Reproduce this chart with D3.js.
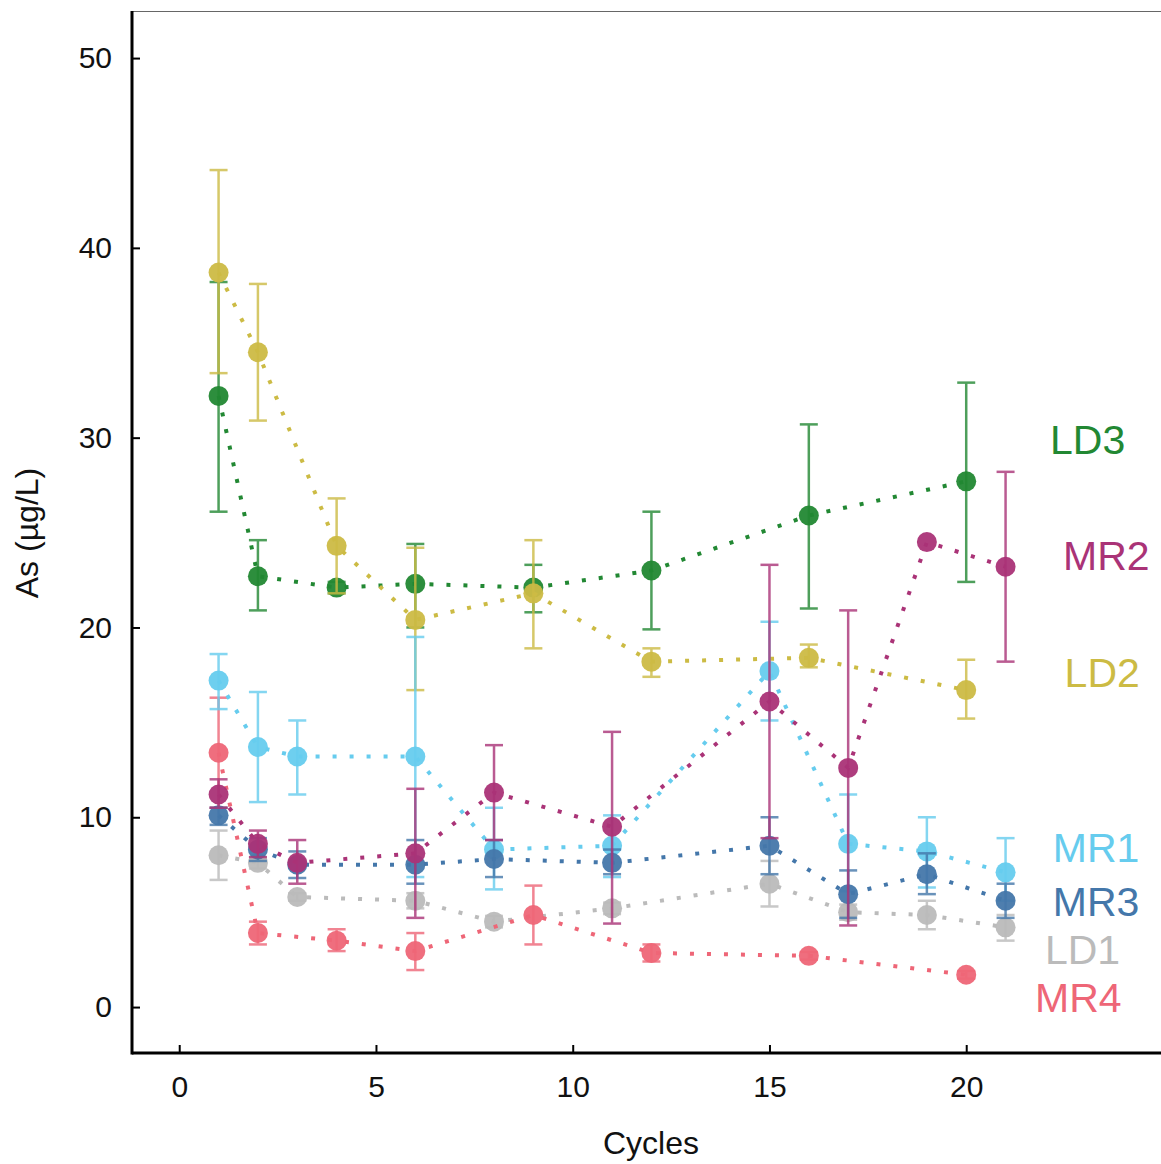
<!DOCTYPE html>
<html>
<head>
<meta charset="utf-8">
<script src="https://cdn.jsdelivr.net/npm/d3@7"></script>
<style>
  body { margin: 0; background: #fff; }
  svg { display: block; font-family: "Liberation Sans", Arial, sans-serif; }
</style>
</head>
<body>
<svg id="chart" width="1161" height="1164"></svg>
<script>
// data: cycle, mean, lower bar, upper bar
const seriesNames = ["LD1", "MR4", "LD3", "LD2", "MR1", "MR3", "MR2"];
const seriesColors = {
    LD1: "#bbbbbb", MR4: "#ee6677", LD3: "#228833", LD2: "#ccbb44",
    MR1: "#66ccee", MR3: "#4477aa", MR2: "#aa3377"
};

const LD1 = [
    [1, 8.0, 6.7, 9.3], [2, 7.6, 7.3, 7.9], [3, 5.8, 5.6, 6.0], [6, 5.6, 5.2, 6.0],
    [8, 4.5, 4.2, 4.8], [11, 5.2, 4.9, 5.5], [15, 6.5, 5.3, 7.7], [17, 5.0, 4.6, 5.4],
    [19, 4.85, 4.1, 5.6], [21, 4.2, 3.5, 4.85]
];
const MR4 = [
    [1, 13.4, 10.5, 16.3], [2, 3.9, 3.3, 4.5], [4, 3.5, 2.95, 4.1], [6, 2.95, 1.95, 3.9],
    [9, 4.85, 3.3, 6.4], [12, 2.85, 2.4, 3.3], [16, 2.7, 2.5, 2.9], [20, 1.7, 1.5, 1.9]
];
const LD3 = [
    [1, 32.2, 26.1, 38.2], [2, 22.7, 20.9, 24.6], [4, 22.1, 21.8, 22.4], [6, 22.3, 20.0, 24.4],
    [9, 22.1, 20.8, 23.3], [12, 23.0, 19.9, 26.1], [16, 25.9, 21.0, 30.7], [20, 27.7, 22.4, 32.9]
];
const LD2 = [
    [1, 38.7, 33.4, 44.1], [2, 34.5, 30.9, 38.1], [4, 24.3, 21.8, 26.8], [6, 20.4, 16.7, 24.2],
    [9, 21.8, 18.9, 24.6], [12, 18.2, 17.4, 18.9], [16, 18.4, 17.9, 19.1], [20, 16.7, 15.2, 18.3]
];
const MR1 = [
    [1, 17.2, 15.7, 18.6], [2, 13.7, 10.8, 16.6], [3, 13.2, 11.2, 15.1], [6, 13.2, 6.85, 19.5],
    [8, 8.3, 6.2, 10.5], [11, 8.5, 6.85, 10.1], [15, 17.7, 15.1, 20.3], [17, 8.6, 6.1, 11.2],
    [19, 8.2, 6.3, 10.0], [21, 7.1, 5.6, 8.9]
];
const MR3 = [
    [1, 10.1, 9.6, 10.5], [2, 8.3, 7.7, 8.9], [3, 7.5, 6.8, 8.2], [6, 7.5, 6.5, 8.8],
    [8, 7.8, 6.85, 8.8], [11, 7.6, 7.0, 8.3], [15, 8.5, 7.0, 10.0], [17, 5.95, 4.7, 7.2],
    [19, 7.0, 5.95, 8.1], [21, 5.6, 4.7, 6.5]
];
const MR2 = [
    [1, 11.2, 10.5, 12.0], [2, 8.6, 7.9, 9.3], [3, 7.6, 6.5, 8.8], [6, 8.1, 4.7, 11.5],
    [8, 11.3, 8.8, 13.8], [11, 9.5, 4.4, 14.5], [15, 16.1, 8.9, 23.3], [17, 12.6, 4.3, 20.9],
    [19, 24.5, 24.5, 24.5], [21, 23.2, 18.2, 28.2]
];
const seriesData = { LD1, MR4, LD3, LD2, MR1, MR3, MR2 };

// end labels: name, cycle, value at which the label sits
const endLabels = [
    ["LD3", 22.13, 29.9], ["MR2", 22.46, 23.8], ["LD2", 22.5, 17.65], ["MR1", 22.2, 8.4],
    ["MR3", 22.2, 5.6], ["LD1", 22.0, 3.05], ["MR4", 21.75, 0.5]
];

const xTicks = [0, 5, 10, 15, 20];
const yTicks = [0, 10, 20, 30, 40, 50];

// layout
const plotLeft = 132, plotTop = 11, plotRight = 1161, plotBottom = 1053;

const svg = d3.select("#chart");

const x = d3.scaleLinear().domain([-1.2, 24.95]).range([plotLeft, plotRight]);
const y = d3.scaleLinear().domain([-2.42, 52.48]).range([plotBottom, plotTop]);

// frame
svg.append("line")
    .attr("x1", plotLeft).attr("x2", plotRight)
    .attr("y1", plotTop + 0.5).attr("y2", plotTop + 0.5)
    .attr("stroke", "#666").attr("stroke-width", 1);

// axes
let yAxis = svg.append("g")
    .attr("transform", `translate(${plotLeft},0)`)
    .call(d3.axisRight(y).tickValues(yTicks).tickSize(8).tickFormat(d3.format("d")));
yAxis.select(".domain").remove();
yAxis.selectAll(".tick line").attr("stroke", "#000").attr("stroke-width", 2);
yAxis.selectAll(".tick text")
    .attr("x", -20).attr("text-anchor", "end")
    .attr("font-size", 30).attr("fill", "#111");

let xAxis = svg.append("g")
    .attr("transform", `translate(0,${plotBottom})`)
    .call(d3.axisTop(x).tickValues(xTicks).tickSize(8).tickFormat(d3.format("d")));
xAxis.select(".domain").remove();
xAxis.selectAll(".tick line").attr("stroke", "#000").attr("stroke-width", 2);
xAxis.selectAll(".tick text")
    .attr("y", 44).attr("dy", 0)
    .attr("font-size", 30).attr("fill", "#111");

svg.append("line")
    .attr("x1", plotLeft).attr("x2", plotLeft)
    .attr("y1", plotTop).attr("y2", plotBottom + 1.5)
    .attr("stroke", "#000").attr("stroke-width", 3);
svg.append("line")
    .attr("x1", plotLeft).attr("x2", plotRight)
    .attr("y1", plotBottom).attr("y2", plotBottom)
    .attr("stroke", "#000").attr("stroke-width", 3);

// axis titles
svg.append("text")
    .attr("transform", `translate(38,533) rotate(-90)`)
    .attr("text-anchor", "middle")
    .attr("font-size", 32).attr("fill", "#111")
    .text("As (µg/L)");
svg.append("text")
    .attr("x", 651).attr("y", 1154)
    .attr("text-anchor", "middle")
    .attr("font-size", 32).attr("fill", "#111")
    .text("Cycles");

// series
const line = d3.line().x(d => x(d[0])).y(d => y(d[1]));
const capHalf = 9;

seriesNames.forEach(name => {
    let data = seriesData[name];
    let color = seriesColors[name];
    let g = svg.append("g").attr("class", "series " + name);

    g.append("path")
        .datum(data)
        .attr("d", line)
        .attr("fill", "none")
        .attr("stroke", color)
        .attr("stroke-width", 4)
        .attr("stroke-dasharray", "4 13");

    let bars = g.selectAll(".err")
        .data(data.filter(d => d[3] > d[2]))
        .enter()
        .append("g")
            .attr("class", "err")
            .attr("stroke", color)
            .attr("stroke-width", 2.5)
            .attr("opacity", 0.8);
    bars.append("line")
        .attr("x1", d => x(d[0])).attr("x2", d => x(d[0]))
        .attr("y1", d => y(d[2])).attr("y2", d => y(d[3]));
    bars.append("line")
        .attr("x1", d => x(d[0]) - capHalf).attr("x2", d => x(d[0]) + capHalf)
        .attr("y1", d => y(d[3])).attr("y2", d => y(d[3]));
    bars.append("line")
        .attr("x1", d => x(d[0]) - capHalf).attr("x2", d => x(d[0]) + capHalf)
        .attr("y1", d => y(d[2])).attr("y2", d => y(d[2]));

    g.selectAll(".pt")
        .data(data)
        .enter()
        .append("circle")
            .attr("class", "pt")
            .attr("cx", d => x(d[0]))
            .attr("cy", d => y(d[1]))
            .attr("r", 10)
            .attr("fill", color)
            .attr("fill-opacity", 0.95);
});

// end labels
svg.selectAll(".endLabel")
    .data(endLabels)
    .enter()
    .append("text")
        .attr("class", "endLabel")
        .attr("x", d => x(d[1]))
        .attr("y", d => y(d[2]))
        .attr("dy", "0.36em")
        .attr("font-size", 41)
        .attr("fill", d => seriesColors[d[0]])
        .text(d => d[0]);
</script>
</body>
</html>
